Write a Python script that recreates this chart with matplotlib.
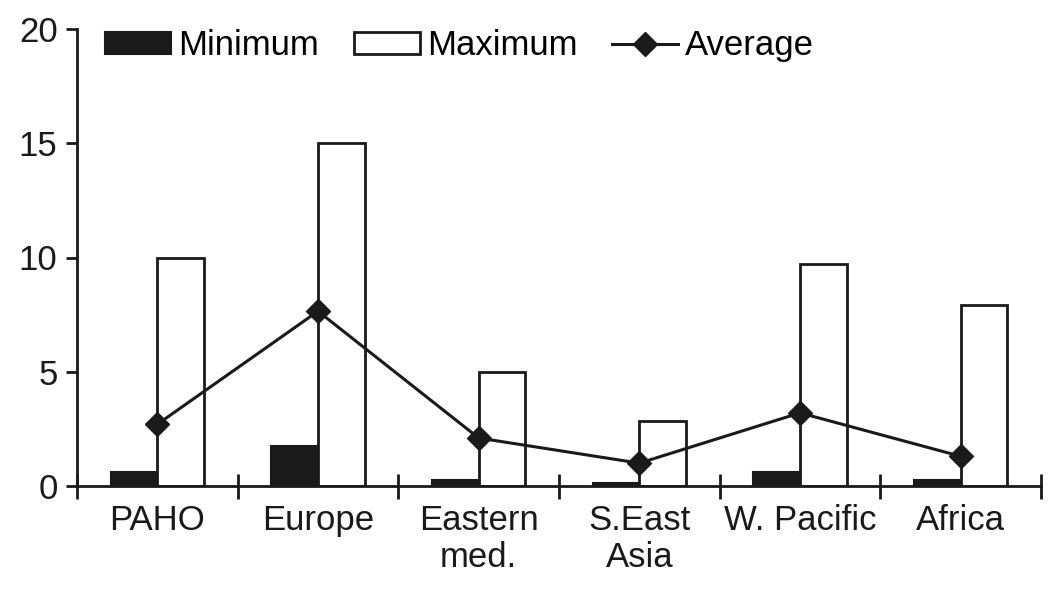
import matplotlib
matplotlib.use("Agg")
import matplotlib.pyplot as plt
import numpy as np

categories = ["PAHO", "Europe", "Eastern\nmed.", "S.East\nAsia", "W. Pacific", "Africa"]
minimum = [0.6, 1.75, 0.25, 0.15, 0.6, 0.25]
maximum = [10.0, 15.0, 5.0, 2.85, 9.7, 7.9]
average = [2.7, 7.65, 2.1, 1.0, 3.2, 1.3]
yticks = [0, 5, 10, 15, 20]

plt.rcParams['font.family'] = ['Liberation Sans', 'DejaVu Sans']
fig = plt.figure(figsize=(10.5, 6.12), dpi=100)
ax = fig.add_axes([77/1050, 1-486/612, (1041-77)/1050, (486-29)/612])

x = np.arange(len(categories))
w = 0.29
b1 = ax.bar(x, minimum, width=-w, align='edge', color='#1a1a1a', edgecolor='#1a1a1a',
            linewidth=1.5, label='Minimum', zorder=2)
b2 = ax.bar(x, maximum, width=w, align='edge', color='white', edgecolor='#1a1a1a',
            linewidth=2.0, label='Maximum', zorder=2)
l1, = ax.plot(x, average, color='#1a1a1a', linewidth=2.2, marker='D', markersize=12,
              label='Average', zorder=3)

ax.set_xlim(-0.5, len(categories) - 0.5)
ax.set_ylim(0, 20)
ax.set_yticks(yticks)
ax.tick_params(axis='y', direction='out', length=8, width=2.0, labelsize=25, pad=6, colors='#1a1a1a')
ax.set_xticks(np.arange(len(categories) + 1) - 0.5)
ax.set_xticklabels([])
ax.tick_params(axis='x', which='major', direction='inout', length=18, width=2.0, colors='#1a1a1a')
ax.set_xticks(x, minor=True)
ax.set_xticklabels(categories, minor=True, fontsize=25, linespacing=1.15)
ax.tick_params(axis='x', which='minor', length=0, pad=13, colors='#1a1a1a')

for s in ['top', 'right']:
    ax.spines[s].set_visible(False)
for s in ['left', 'bottom']:
    ax.spines[s].set_linewidth(2.0)
    ax.spines[s].set_color('#1a1a1a')

leg = ax.legend(handles=[b1, b2, l1], loc='upper left', bbox_to_anchor=(0.015, 1.03), ncol=3,
                frameon=False, fontsize=25, handlelength=1.9, handleheight=0.6,
                handletextpad=0.2, columnspacing=1.0, borderaxespad=0)

fig.savefig("out.png", dpi=100)
